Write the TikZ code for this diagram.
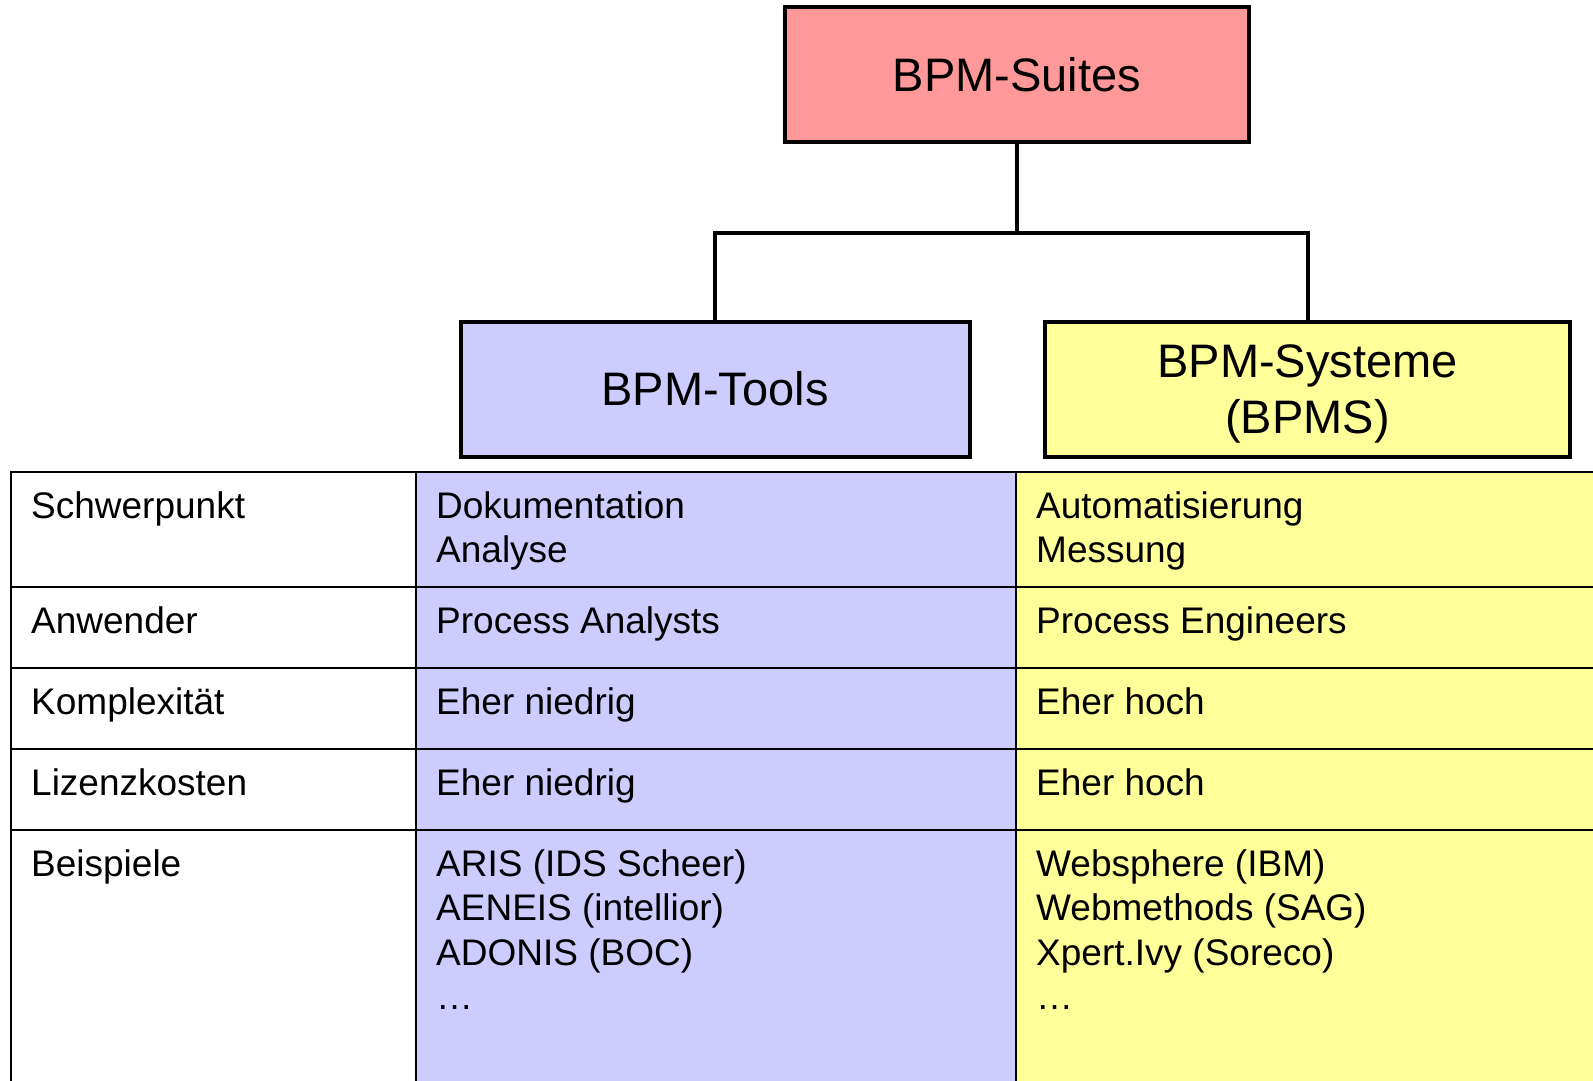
\documentclass[tikz,border=0pt]{standalone}
\usepackage{fontspec}
\setmainfont{Liberation Sans}
\definecolor{suitered}{HTML}{FF9999}
\definecolor{toolblue}{HTML}{CCCCFF}
\definecolor{sysyellow}{HTML}{FFFF99}
\newcommand{\cellbox}[1]{\parbox[t]{560pt}{\raggedright #1}}
\begin{document}
\begin{tikzpicture}[x=1pt,y=-1pt,
  headbox/.style={draw=black, line width=4pt, inner sep=0pt, align=center,
    font=\fontsize{47}{56}\selectfont},
  headtext/.style={inner sep=0pt, align=center, font=\fontsize{47}{56}\selectfont},
  tabline/.style={draw=black, line width=2pt},
  conn/.style={draw=black, line width=4pt},
  celltext/.style={anchor=base west, inner sep=0pt, font=\fontsize{37}{44.5}\selectfont}]
\useasboundingbox (0,0) rectangle (1593,1081);
\clip (0,0) rectangle (1593,1081);
\fill[white] (0,0) rectangle (1593,1081);
% table backgrounds
\fill[toolblue] (416,472) rectangle (1016,1100);
\fill[sysyellow] (1016,472) rectangle (1610,1100);
% table grid
\draw[tabline] (11,1100) -- (11,472) -- (1610,472);
\draw[tabline] (11,587) -- (1610,587);
\draw[tabline] (11,668) -- (1610,668);
\draw[tabline] (11,749) -- (1610,749);
\draw[tabline] (11,830) -- (1610,830);
\draw[tabline] (416,472) -- (416,1100);
\draw[tabline] (1016,472) -- (1016,1100);
% header boxes
\node[headbox, fill=suitered, minimum width=464pt, minimum height=135pt] (suites) at (1017,74.5) {BPM-Suites};
\node[headbox, fill=toolblue, minimum width=509pt, minimum height=135pt] (tools) at (715,389) {BPM-Tools};
\node[headbox, fill=sysyellow, minimum width=525pt, minimum height=135pt] (systeme) at (1307.5,389) {};
\node[headtext] (systemetext) at ([yshift=-5pt]systeme.center) {BPM-Systeme\\(BPMS)};
\coordinate (bar) at (1017,233);
\draw[conn] (suites.south) -- (suites.south |- bar);
\draw[conn, line join=miter] (tools.north) -- (tools.north |- bar) -- (systeme.north |- bar) -- (systeme.north);
% table texts
\node[celltext] (r1c1) at (31,518) {\cellbox{Schwerpunkt}};
\node[celltext] (r1c2) at (436,518) {\cellbox{Dokumentation\\Analyse}};
\node[celltext] (r1c3) at (1036,518) {\cellbox{Automatisierung\\Messung}};
\node[celltext] (r2c1) at (31,633) {\cellbox{Anwender}};
\node[celltext] (r2c2) at (436,633) {\cellbox{Process Analysts}};
\node[celltext] (r2c3) at (1036,633) {\cellbox{Process Engineers}};
\node[celltext] (r3c1) at (31,714) {\cellbox{Komplexität}};
\node[celltext] (r3c2) at (436,714) {\cellbox{Eher niedrig}};
\node[celltext] (r3c3) at (1036,714) {\cellbox{Eher hoch}};
\node[celltext] (r4c1) at (31,795) {\cellbox{Lizenzkosten}};
\node[celltext] (r4c2) at (436,795) {\cellbox{Eher niedrig}};
\node[celltext] (r4c3) at (1036,795) {\cellbox{Eher hoch}};
\node[celltext] (r5c1) at (31,876) {\cellbox{Beispiele}};
\node[celltext] (r5c2) at (436,876) {\cellbox{ARIS (IDS Scheer)\\AENEIS (intellior)\\ADONIS (BOC)\\…}};
\node[celltext] (r5c3) at (1036,876) {\cellbox{Websphere (IBM)\\Webmethods (SAG)\\Xpert.Ivy (Soreco)\\…}};
\end{tikzpicture}
\end{document}
